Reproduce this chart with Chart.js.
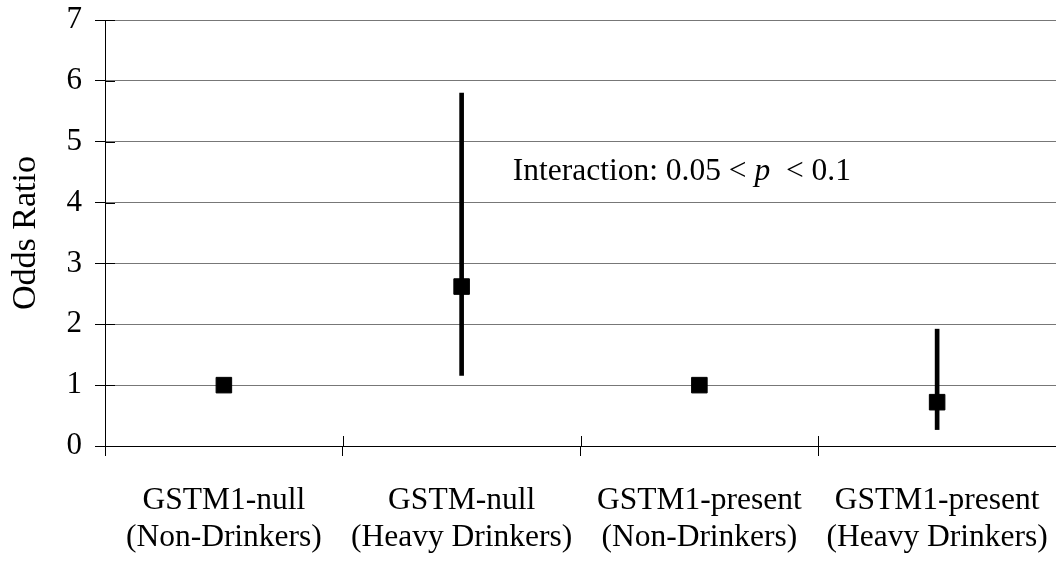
<!DOCTYPE html>
<html>
<head>
<meta charset="utf-8">
<script src="https://cdn.jsdelivr.net/npm/chart.js@4/dist/chart.umd.min.js"></script>
<style>
  html, body { margin: 0; padding: 0; background: #fff; }
  #wrap { width: 1056px; height: 561px; }
</style>
</head>
<body>
<div id="wrap"><canvas id="orChart" width="1056" height="561"></canvas></div>
<script>
const groups = [
  ["GSTM1-null", "(Non-Drinkers)"],
  ["GSTM-null", "(Heavy Drinkers)"],
  ["GSTM1-present", "(Non-Drinkers)"],
  ["GSTM1-present", "(Heavy Drinkers)"],
];
const oddsRatio = [1.0, 2.62, 1.0, 0.72];
const ciLower = [null, 1.16, null, 0.27];
const ciUpper = [null, 5.8, null, 1.92];
const yTicks = [0, 1, 2, 3, 4, 5, 6, 7];

const SERIF = "'Liberation Serif', 'Times New Roman', serif";

// Small inward tick marks on both axes plus the interaction note
const axisExtras = {
  id: "axisExtras",
  afterDraw(chart, args, opts) {
    const { ctx, chartArea, scales } = chart;
    const x = scales.x;
    const y = scales.y;
    ctx.save();
    ctx.strokeStyle = "#000";
    ctx.lineWidth = 1;
    ctx.beginPath();
    yTicks.forEach((v) => {
      const py = Math.round(y.getPixelForValue(v)) + 0.5;
      ctx.moveTo(chartArea.left, py);
      ctx.lineTo(chartArea.left + 10, py);
    });
    for (let i = 0; i <= groups.length; i++) {
      const px = Math.round(x.getPixelForValue(i - 0.5)) + 0.5;
      ctx.moveTo(px, chartArea.bottom);
      ctx.lineTo(px, chartArea.bottom - 10);
    }
    ctx.stroke();

    // "Interaction: 0.05 < p < 0.1" with an italic p
    const note = opts.note;
    let tx = x.getPixelForValue(note.x);
    const ty = y.getPixelForValue(note.y);
    ctx.fillStyle = "#000";
    ctx.textBaseline = "alphabetic";
    ctx.textAlign = "left";
    note.parts.forEach(([text, italic]) => {
      ctx.font = (italic ? "italic " : "") + note.size + "px " + SERIF;
      ctx.fillText(text, tx, ty);
      tx += ctx.measureText(text).width;
    });
    ctx.restore();
  },
};

new Chart(document.getElementById("orChart"), {
  type: "bar",
  data: {
    labels: groups,
    datasets: [
      {
        type: "line",
        label: "Odds Ratio",
        data: oddsRatio,
        showLine: false,
        pointStyle: "rect",
        pointRadius: 11,
        pointBorderWidth: 1,
        pointBackgroundColor: "#000",
        pointBorderColor: "#000",
        order: 0,
      },
      {
        type: "bar",
        label: "95% CI",
        data: ciLower.map((lo, i) => (lo === null ? null : [lo, ciUpper[i]])),
        backgroundColor: "#000",
        barThickness: 4,
        order: 1,
      },
    ],
  },
  options: {
    responsive: false,
    animation: false,
    events: [],
    layout: { autoPadding: false, padding: { top: 20, right: 0, bottom: 0, left: 0 } },
    plugins: {
      legend: { display: false },
      tooltip: { enabled: false },
      axisExtras: {
        note: {
          x: 1.215,
          y: 4.37,
          size: 31.5,
          parts: [["Interaction: 0.05 < ", false], ["p", true], ["  < 0.1", false]],
        },
      },
    },
    scales: {
      x: {
        offset: true,
        grid: {
          offset: true,
          drawOnChartArea: false,
          tickLength: 10,
          tickColor: "#000",
        },
        border: { color: "#000", width: 1 },
        ticks: {
          color: "#000",
          padding: 26,
          maxRotation: 0,
          autoSkip: false,
          font: { family: SERIF, size: 31.5, lineHeight: 1.18 },
        },
        afterFit(scale) {
          scale.height = 115;
          scale.paddingLeft = 0;
          scale.paddingRight = 0;
        },
      },
      y: {
        min: 0,
        max: 7,
        ticks: {
          stepSize: 1,
          color: "#000",
          padding: 13,
          font: { family: SERIF, size: 31 },
        },
        grid: { color: "#777", tickLength: 10, tickColor: "#000" },
        border: { color: "#000", width: 1 },
        title: {
          display: true,
          text: "Odds Ratio",
          color: "#000",
          padding: { top: 6, bottom: 0 },
          font: { family: SERIF, size: 34 },
        },
        afterFit(scale) {
          scale.width = 105;
          scale.paddingTop = 0;
          scale.paddingBottom = 0;
        },
      },
    },
  },
  plugins: [axisExtras],
});
</script>
</body>
</html>
